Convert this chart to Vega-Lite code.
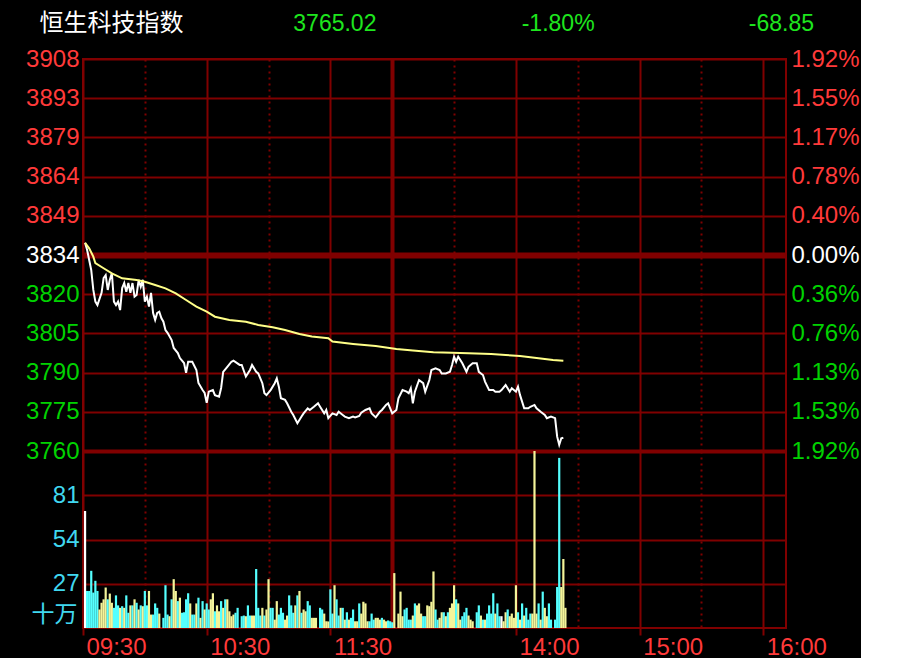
{
  "$schema": "https://vega.github.io/schema/vega-lite/v6.json",
  "background": "#000000",
  "padding": {"left": 24, "top": 0, "right": 0, "bottom": 0},
  "bounds": "flush",
  "align": "each",
  "spacing": 0,
  "config": {
    "view": {"stroke": "#800000", "strokeWidth": 2},
    "axis": {
      "labelFont": "Liberation Sans",
      "labelFontSize": 24,
      "domain": false,
      "gridColor": "#800000",
      "gridOpacity": 1,
      "gridWidth": 2,
      "tickColor": "#800000",
      "tickWidth": 2,
      "labelOverlap": false,
      "labelFlush": false,
      "labelBound": false
    }
  },
  "datasets": {
    "header": [
      {"key": "name", "kind": "name", "label": "恒生科技指数"},
      {"key": "last", "kind": "num", "label": "3765.02"},
      {"key": "pct", "kind": "num", "label": "-1.80%"},
      {"key": "chg", "kind": "num", "label": "-68.85"}
    ],
    "price": [
      {"t":1,"p":3838.6},{"t":2,"p":3835.9},{"t":4,"p":3828.3},{"t":5,"p":3820.8},{"t":6,"p":3816.4},{"t":7,"p":3815.1},{"t":9,"p":3819.7},{"t":10,"p":3825.3},{"t":11,"p":3826.4},{"t":12,"p":3820.8},{"t":13,"p":3824.6},{"t":14,"p":3827.2},{"t":15,"p":3816.4},{"t":16,"p":3815.1},{"t":17,"p":3816.4},{"t":18,"p":3813.2},{"t":19,"p":3821.5},{"t":20,"p":3823.4},{"t":21,"p":3820.1},{"t":22,"p":3823.4},{"t":23,"p":3819.7},{"t":24,"p":3823.4},{"t":25,"p":3818.3},{"t":26,"p":3818.9},{"t":27,"p":3824.6},{"t":28,"p":3822.0},{"t":29,"p":3824.6},{"t":30,"p":3816.4},{"t":31,"p":3818.3},{"t":32,"p":3814.5},{"t":33,"p":3819.7},{"t":34,"p":3812.1},{"t":35,"p":3809.5},{"t":36,"p":3812.1},{"t":37,"p":3812.6},{"t":38,"p":3810.2},{"t":39,"p":3808.8},{"t":40,"p":3805.7},{"t":41,"p":3804.6},{"t":43,"p":3801.9},{"t":44,"p":3798.9},{"t":46,"p":3797.0},{"t":47,"p":3795.1},{"t":49,"p":3793.2},{"t":50,"p":3789.5},{"t":51,"p":3793.7},{"t":53,"p":3793.7},{"t":55,"p":3790.6},{"t":56,"p":3785.7},{"t":58,"p":3783.0},{"t":59,"p":3781.9},{"t":60,"p":3778.2},{"t":61,"p":3782.4},{"t":63,"p":3783.0},{"t":64,"p":3781.1},{"t":66,"p":3780.5},{"t":67,"p":3783.8},{"t":68,"p":3789.9},{"t":70,"p":3791.8},{"t":72,"p":3793.7},{"t":73,"p":3794.1},{"t":76,"p":3792.5},{"t":77,"p":3792.5},{"t":79,"p":3788.1},{"t":81,"p":3790.6},{"t":82,"p":3792.5},{"t":84,"p":3789.9},{"t":85,"p":3789.3},{"t":87,"p":3785.6},{"t":88,"p":3781.8},{"t":89,"p":3781.1},{"t":91,"p":3783.0},{"t":93,"p":3785.6},{"t":94,"p":3787.4},{"t":95,"p":3784.3},{"t":96,"p":3779.9},{"t":98,"p":3779.3},{"t":99,"p":3778.0},{"t":101,"p":3774.8},{"t":102,"p":3773.6},{"t":104,"p":3770.5},{"t":106,"p":3773.0},{"t":107,"p":3774.2},{"t":109,"p":3776.1},{"t":110,"p":3775.5},{"t":112,"p":3776.7},{"t":114,"p":3778.0},{"t":115,"p":3776.7},{"t":117,"p":3774.2},{"t":118,"p":3775.5},{"t":119,"p":3772.4},{"t":121,"p":3774.2},{"t":123,"p":3773.6},{"t":124,"p":3774.8},{"t":126,"p":3773.6},{"t":127,"p":3773.0},{"t":129,"p":3772.4},{"t":131,"p":3773.0},{"t":132,"p":3772.7},{"t":134,"p":3773.2},{"t":135,"p":3774.5},{"t":137,"p":3775.5},{"t":139,"p":3776.1},{"t":140,"p":3774.2},{"t":142,"p":3772.7},{"t":144,"p":3774.8},{"t":145,"p":3775.5},{"t":147,"p":3777.4},{"t":148,"p":3778.0},{"t":150,"p":3774.2},{"t":152,"p":3775.5},{"t":153,"p":3779.9},{"t":155,"p":3783.0},{"t":157,"p":3782.4},{"t":158,"p":3781.8},{"t":159,"p":3783.7},{"t":160,"p":3778.0},{"t":161,"p":3782.4},{"t":163,"p":3786.8},{"t":165,"p":3785.6},{"t":166,"p":3782.4},{"t":168,"p":3786.8},{"t":169,"p":3790.6},{"t":171,"p":3791.2},{"t":173,"p":3790.6},{"t":174,"p":3789.3},{"t":176,"p":3789.3},{"t":178,"p":3789.9},{"t":179,"p":3792.5},{"t":180,"p":3795.6},{"t":181,"p":3793.7},{"t":182,"p":3795.6},{"t":184,"p":3793.1},{"t":186,"p":3789.9},{"t":187,"p":3791.8},{"t":189,"p":3793.1},{"t":191,"p":3793.1},{"t":192,"p":3789.9},{"t":194,"p":3788.7},{"t":195,"p":3786.2},{"t":197,"p":3783.0},{"t":199,"p":3783.0},{"t":200,"p":3782.4},{"t":202,"p":3782.4},{"t":203,"p":3783.0},{"t":205,"p":3784.9},{"t":207,"p":3782.4},{"t":208,"p":3783.7},{"t":210,"p":3782.4},{"t":211,"p":3784.3},{"t":212,"p":3781.1},{"t":214,"p":3776.1},{"t":216,"p":3776.1},{"t":217,"p":3776.7},{"t":219,"p":3777.4},{"t":220,"p":3776.1},{"t":222,"p":3774.8},{"t":224,"p":3773.6},{"t":225,"p":3772.4},{"t":227,"p":3773.0},{"t":229,"p":3772.4},{"t":230,"p":3765.4},{"t":231,"p":3762.3},{"t":232,"p":3764.8},{"t":233,"p":3765.02}
    ],
    "avg": [
      {"t":1,"a":3838.6},{"t":3,"a":3836.5},{"t":5,"a":3833.4},{"t":6,"a":3830.9},{"t":10,"a":3829.0},{"t":14,"a":3827.1},{"t":19,"a":3825.2},{"t":26,"a":3824.6},{"t":30,"a":3823.9},{"t":35,"a":3822.7},{"t":40,"a":3821.4},{"t":45,"a":3819.5},{"t":50,"a":3817.0},{"t":55,"a":3814.5},{"t":60,"a":3812.6},{"t":64,"a":3810.7},{"t":71,"a":3809.5},{"t":79,"a":3808.8},{"t":85,"a":3807.6},{"t":92,"a":3806.7},{"t":98,"a":3805.7},{"t":105,"a":3804.2},{"t":111,"a":3803.2},{"t":119,"a":3802.6},{"t":121,"a":3801.3},{"t":131,"a":3800.4},{"t":142,"a":3799.6},{"t":152,"a":3798.5},{"t":160,"a":3797.9},{"t":170,"a":3797.3},{"t":179,"a":3797.1},{"t":187,"a":3796.9},{"t":198,"a":3796.6},{"t":205,"a":3796.2},{"t":212,"a":3795.9},{"t":221,"a":3795.0},{"t":228,"a":3794.4},{"t":233,"a":3794.1}
    ],
    "vol": [
      {"t":1,"v":71.4,"dir":"flat"},{"t":2,"v":22.6,"dir":"up"},{"t":3,"v":22.6,"dir":"up"},{"t":4,"v":34.9,"dir":"up"},{"t":5,"v":21.6,"dir":"up"},{"t":6,"v":28.8,"dir":"up"},{"t":7,"v":22.6,"dir":"up"},{"t":8,"v":11.3,"dir":"down"},{"t":9,"v":15.4,"dir":"down"},{"t":10,"v":17.5,"dir":"down"},{"t":11,"v":24.7,"dir":"down"},{"t":12,"v":17.5,"dir":"up"},{"t":13,"v":21.0,"dir":"down"},{"t":14,"v":15.4,"dir":"down"},{"t":15,"v":12.3,"dir":"up"},{"t":16,"v":19.9,"dir":"up"},{"t":17,"v":13.8,"dir":"up"},{"t":18,"v":12.3,"dir":"down"},{"t":19,"v":13.3,"dir":"up"},{"t":20,"v":12.3,"dir":"down"},{"t":21,"v":19.9,"dir":"up"},{"t":22,"v":9.3,"dir":"up"},{"t":23,"v":13.8,"dir":"down"},{"t":24,"v":13.8,"dir":"up"},{"t":25,"v":17.5,"dir":"down"},{"t":26,"v":15.4,"dir":"up"},{"t":27,"v":11.3,"dir":"down"},{"t":28,"v":13.8,"dir":"up"},{"t":29,"v":13.3,"dir":"down"},{"t":30,"v":22.6,"dir":"up"},{"t":31,"v":13.8,"dir":"up"},{"t":32,"v":22.6,"dir":"down"},{"t":33,"v":8.2,"dir":"down"},{"t":34,"v":8.2,"dir":"up"},{"t":35,"v":15.0,"dir":"up"},{"t":36,"v":12.3,"dir":"up"},{"t":37,"v":8.8,"dir":"down"},{"t":39,"v":6.2,"dir":"up"},{"t":40,"v":26.1,"dir":"up"},{"t":41,"v":8.2,"dir":"up"},{"t":42,"v":7.2,"dir":"down"},{"t":43,"v":17.5,"dir":"up"},{"t":44,"v":29.8,"dir":"down"},{"t":45,"v":22.6,"dir":"down"},{"t":46,"v":16.4,"dir":"up"},{"t":47,"v":18.5,"dir":"down"},{"t":48,"v":9.3,"dir":"up"},{"t":49,"v":9.6,"dir":"up"},{"t":50,"v":17.5,"dir":"up"},{"t":51,"v":21.2,"dir":"up"},{"t":52,"v":15.0,"dir":"down"},{"t":53,"v":8.2,"dir":"up"},{"t":54,"v":8.2,"dir":"up"},{"t":55,"v":15.0,"dir":"down"},{"t":56,"v":18.5,"dir":"up"},{"t":57,"v":6.2,"dir":"down"},{"t":58,"v":16.4,"dir":"up"},{"t":59,"v":11.3,"dir":"down"},{"t":60,"v":15.0,"dir":"up"},{"t":61,"v":11.3,"dir":"up"},{"t":62,"v":17.5,"dir":"down"},{"t":63,"v":21.2,"dir":"down"},{"t":64,"v":10.2,"dir":"up"},{"t":65,"v":13.8,"dir":"down"},{"t":66,"v":10.2,"dir":"down"},{"t":67,"v":16.4,"dir":"up"},{"t":68,"v":12.3,"dir":"down"},{"t":69,"v":17.5,"dir":"up"},{"t":70,"v":17.5,"dir":"down"},{"t":71,"v":10.2,"dir":"down"},{"t":72,"v":7.2,"dir":"down"},{"t":73,"v":8.2,"dir":"down"},{"t":74,"v":9.3,"dir":"up"},{"t":75,"v":12.3,"dir":"up"},{"t":77,"v":7.2,"dir":"up"},{"t":78,"v":7.6,"dir":"up"},{"t":79,"v":7.2,"dir":"down"},{"t":80,"v":13.8,"dir":"up"},{"t":81,"v":7.6,"dir":"up"},{"t":82,"v":7.6,"dir":"down"},{"t":83,"v":7.6,"dir":"down"},{"t":84,"v":36.0,"dir":"up"},{"t":85,"v":12.3,"dir":"up"},{"t":86,"v":7.6,"dir":"up"},{"t":87,"v":12.3,"dir":"down"},{"t":88,"v":7.6,"dir":"up"},{"t":89,"v":11.3,"dir":"down"},{"t":90,"v":29.8,"dir":"down"},{"t":91,"v":12.3,"dir":"up"},{"t":92,"v":12.3,"dir":"up"},{"t":93,"v":5.1,"dir":"down"},{"t":94,"v":16.4,"dir":"down"},{"t":95,"v":8.2,"dir":"up"},{"t":96,"v":12.3,"dir":"up"},{"t":97,"v":9.3,"dir":"up"},{"t":98,"v":5.1,"dir":"down"},{"t":99,"v":7.6,"dir":"down"},{"t":100,"v":19.9,"dir":"up"},{"t":101,"v":13.8,"dir":"up"},{"t":102,"v":9.3,"dir":"up"},{"t":103,"v":13.8,"dir":"down"},{"t":104,"v":19.9,"dir":"up"},{"t":105,"v":22.6,"dir":"down"},{"t":106,"v":9.3,"dir":"up"},{"t":107,"v":11.3,"dir":"down"},{"t":108,"v":10.2,"dir":"down"},{"t":109,"v":16.4,"dir":"up"},{"t":110,"v":13.8,"dir":"up"},{"t":111,"v":6.2,"dir":"down"},{"t":112,"v":6.2,"dir":"down"},{"t":113,"v":6.2,"dir":"down"},{"t":115,"v":12.3,"dir":"up"},{"t":116,"v":11.3,"dir":"up"},{"t":117,"v":8.8,"dir":"down"},{"t":118,"v":4.1,"dir":"down"},{"t":119,"v":4.0,"dir":"down"},{"t":120,"v":23.6,"dir":"up"},{"t":121,"v":8.8,"dir":"up"},{"t":122,"v":26.1,"dir":"down"},{"t":123,"v":17.5,"dir":"up"},{"t":124,"v":7.6,"dir":"up"},{"t":125,"v":12.3,"dir":"down"},{"t":126,"v":12.3,"dir":"up"},{"t":127,"v":5.1,"dir":"down"},{"t":128,"v":9.6,"dir":"up"},{"t":129,"v":5.1,"dir":"down"},{"t":130,"v":6.2,"dir":"up"},{"t":131,"v":11.3,"dir":"up"},{"t":132,"v":4.1,"dir":"down"},{"t":133,"v":4.1,"dir":"down"},{"t":134,"v":15.0,"dir":"up"},{"t":135,"v":8.8,"dir":"down"},{"t":136,"v":16.0,"dir":"down"},{"t":137,"v":15.0,"dir":"down"},{"t":138,"v":4.1,"dir":"down"},{"t":139,"v":4.1,"dir":"up"},{"t":140,"v":8.8,"dir":"up"},{"t":141,"v":5.1,"dir":"up"},{"t":142,"v":6.2,"dir":"down"},{"t":143,"v":6.2,"dir":"down"},{"t":144,"v":5.1,"dir":"down"},{"t":145,"v":6.2,"dir":"up"},{"t":146,"v":5.1,"dir":"down"},{"t":147,"v":4.1,"dir":"down"},{"t":148,"v":4.6,"dir":"up"},{"t":149,"v":4.1,"dir":"up"},{"t":150,"v":3.5,"dir":"up"},{"t":151,"v":33.5,"dir":"down"},{"t":153,"v":8.8,"dir":"down"},{"t":154,"v":22.2,"dir":"down"},{"t":155,"v":7.2,"dir":"down"},{"t":156,"v":11.3,"dir":"up"},{"t":157,"v":12.3,"dir":"up"},{"t":158,"v":5.1,"dir":"up"},{"t":159,"v":5.1,"dir":"up"},{"t":160,"v":7.6,"dir":"down"},{"t":161,"v":15.0,"dir":"up"},{"t":162,"v":13.8,"dir":"down"},{"t":163,"v":15.0,"dir":"down"},{"t":164,"v":8.8,"dir":"down"},{"t":165,"v":7.2,"dir":"up"},{"t":166,"v":7.2,"dir":"up"},{"t":167,"v":13.8,"dir":"down"},{"t":168,"v":13.3,"dir":"down"},{"t":169,"v":16.0,"dir":"down"},{"t":170,"v":34.5,"dir":"down"},{"t":171,"v":11.3,"dir":"up"},{"t":172,"v":5.1,"dir":"up"},{"t":173,"v":6.2,"dir":"down"},{"t":174,"v":9.6,"dir":"down"},{"t":175,"v":9.6,"dir":"up"},{"t":176,"v":7.2,"dir":"down"},{"t":177,"v":9.6,"dir":"up"},{"t":178,"v":12.3,"dir":"down"},{"t":179,"v":15.0,"dir":"down"},{"t":180,"v":26.1,"dir":"down"},{"t":181,"v":17.5,"dir":"up"},{"t":182,"v":15.0,"dir":"down"},{"t":183,"v":5.1,"dir":"down"},{"t":184,"v":7.2,"dir":"up"},{"t":185,"v":9.6,"dir":"up"},{"t":186,"v":12.3,"dir":"up"},{"t":187,"v":7.6,"dir":"down"},{"t":188,"v":5.1,"dir":"down"},{"t":189,"v":4.1,"dir":"down"},{"t":191,"v":9.6,"dir":"up"},{"t":192,"v":13.8,"dir":"up"},{"t":193,"v":7.6,"dir":"down"},{"t":194,"v":5.1,"dir":"up"},{"t":195,"v":5.1,"dir":"down"},{"t":196,"v":8.8,"dir":"up"},{"t":197,"v":13.8,"dir":"up"},{"t":198,"v":8.8,"dir":"up"},{"t":199,"v":21.2,"dir":"up"},{"t":200,"v":8.8,"dir":"down"},{"t":201,"v":15.0,"dir":"up"},{"t":202,"v":7.2,"dir":"up"},{"t":203,"v":7.2,"dir":"flat"},{"t":204,"v":4.1,"dir":"down"},{"t":205,"v":9.6,"dir":"down"},{"t":206,"v":11.3,"dir":"up"},{"t":207,"v":7.2,"dir":"down"},{"t":208,"v":8.8,"dir":"down"},{"t":209,"v":6.2,"dir":"down"},{"t":210,"v":26.1,"dir":"down"},{"t":211,"v":9.6,"dir":"up"},{"t":212,"v":5.1,"dir":"down"},{"t":213,"v":15.0,"dir":"up"},{"t":214,"v":7.6,"dir":"down"},{"t":215,"v":12.3,"dir":"up"},{"t":216,"v":5.1,"dir":"up"},{"t":217,"v":8.8,"dir":"up"},{"t":218,"v":8.8,"dir":"down"},{"t":219,"v":108,"dir":"down"},{"t":220,"v":8.8,"dir":"down"},{"t":221,"v":15.0,"dir":"up"},{"t":222,"v":5.1,"dir":"down"},{"t":223,"v":22.2,"dir":"up"},{"t":224,"v":12.3,"dir":"down"},{"t":225,"v":7.2,"dir":"down"},{"t":226,"v":15.0,"dir":"up"},{"t":227,"v":5.1,"dir":"up"},{"t":229,"v":5.1,"dir":"up"},{"t":230,"v":25.0,"dir":"up"},{"t":231,"v":103.8,"dir":"up"},{"t":232,"v":25.0,"dir":"down"},{"t":233,"v":42.1,"dir":"down"},{"t":234,"v":12.3,"dir":"down"}
    ]
  },
  "vconcat": [
    {
      "width": 727,
      "height": 59,
      "view": {"stroke": null},
      "data": {"name": "header"},
      "layer": [
        {
          "transform": [{"filter": "datum.kind == 'name'"}],
          "mark": {"type": "text", "font": "Noto Sans CJK SC", "fontSize": 24, "dy": -6, "color": "#ffffff"},
          "encoding": {
            "x": {"field": "key", "type": "nominal", "scale": {"type": "point", "padding": 0.128, "domain": ["name", "last", "pct", "chg"]}, "axis": null},
            "text": {"field": "label"}
          }
        },
        {
          "transform": [{"filter": "datum.kind == 'num'"}],
          "mark": {"type": "text", "font": "Liberation Sans", "fontSize": 23, "dy": -6, "color": "#1ee61e"},
          "encoding": {
            "x": {"field": "key", "type": "nominal", "scale": {"type": "point", "padding": 0.128, "domain": ["name", "last", "pct", "chg"]}, "axis": null},
            "text": {"field": "label"}
          }
        }
      ]
    },
    {
      "width": 703,
      "height": 392,
      "layer": [
        {
          "data": {"name": "price"},
          "mark": {"type": "line", "color": "#ffffff", "strokeWidth": 2},
          "encoding": {
            "x": {
              "field": "t", "type": "quantitative",
              "scale": {"domain": [0, 341], "nice": false, "zero": false, "padding": 0},
              "axis": {
                "values": [0, 30, 60, 90, 120, 150, 180, 210, 240, 270, 300, 330],
                "labels": false, "ticks": false, "grid": true, "title": null,
                "gridWidth": {"condition": {"test": "datum.value == 150", "value": 4}, "value": 2},
                "gridDash": {"condition": {"test": "indexof([30,90,180,240,300], datum.value) >= 0", "value": [2, 4]}, "value": []}
              }
            },
            "y": {
              "field": "p", "type": "quantitative",
              "scale": {"domain": [3760, 3908], "nice": false, "zero": false},
              "axis": {
                "orient": "left",
                "values": [3760, 3774.8, 3789.6, 3804.4, 3819.2, 3834, 3848.8, 3863.6, 3878.4, 3893.2, 3908],
                "title": null, "ticks": false, "tickSize": 0, "labelPadding": 4, "grid": true,
                "labelExpr": "datum.value < 3767 ? '3760' : datum.value < 3782 ? '3775' : datum.value < 3797 ? '3790' : datum.value < 3812 ? '3805' : datum.value < 3826 ? '3820' : datum.value < 3841 ? '3834' : datum.value < 3856 ? '3849' : datum.value < 3871 ? '3864' : datum.value < 3886 ? '3879' : datum.value < 3900 ? '3893' : '3908'",
                "labelColor": {"condition": [{"test": "datum.value > 3835", "value": "#ff3a3a"}, {"test": "datum.value < 3833", "value": "#00d200"}], "value": "#ffffff"},
                "gridWidth": {"condition": [{"test": "abs(datum.value - 3834) < 1", "value": 6}, {"test": "abs(datum.value - 3760) < 1", "value": 4}], "value": 2}
              }
            }
          }
        },
        {
          "data": {"name": "avg"},
          "mark": {"type": "line", "color": "#ffff88", "strokeWidth": 2},
          "encoding": {
            "x": {
              "field": "t", "type": "quantitative",
              "scale": {"domain": [0, 341], "nice": false, "zero": false, "padding": 0}
            },
            "y": {
              "field": "a", "type": "quantitative",
              "scale": {"domain": [3760, 3908], "nice": false, "zero": false},
              "axis": {
                "orient": "right",
                "values": [3760, 3774.8, 3789.6, 3804.4, 3819.2, 3834, 3848.8, 3863.6, 3878.4, 3893.2, 3908],
                "title": null, "ticks": false, "tickSize": 0, "labelPadding": 5, "grid": false,
                "labelExpr": "datum.value < 3767 ? '1.92%' : datum.value < 3782 ? '1.53%' : datum.value < 3797 ? '1.13%' : datum.value < 3812 ? '0.76%' : datum.value < 3826 ? '0.36%' : datum.value < 3841 ? '0.00%' : datum.value < 3856 ? '0.40%' : datum.value < 3871 ? '0.78%' : datum.value < 3886 ? '1.17%' : datum.value < 3900 ? '1.55%' : '1.92%'",
                "labelColor": {"condition": [{"test": "datum.value > 3835", "value": "#ff3a3a"}, {"test": "datum.value < 3833", "value": "#00d200"}], "value": "#ffffff"}
              }
            }
          }
        }
      ],
      "resolve": {"scale": {"y": "independent"}}
    },
    {
      "width": 703,
      "height": 177,
      "data": {"name": "vol"},
      "mark": {"type": "bar", "size": 2.2, "orient": "vertical"},
      "encoding": {
        "x": {
          "field": "t", "type": "quantitative",
          "scale": {"domain": [0, 341], "nice": false, "zero": false, "padding": 0},
          "axis": {
            "values": [0, 30, 60, 90, 120, 150, 180, 210, 240, 270, 300, 330],
            "grid": true, "ticks": true, "tickSize": 7, "labelPadding": 0,
            "labelAlign": "left", "labelBaseline": "top", "labelOffset": 3,
            "labelColor": "#ff3a3a", "title": null,
            "labelExpr": "datum.value == 0 ? '09:30' : datum.value == 60 ? '10:30' : datum.value == 120 ? '11:30' : datum.value == 210 ? '14:00' : datum.value == 270 ? '15:00' : datum.value == 330 ? '16:00' : ''",
            "gridWidth": {"condition": {"test": "datum.value == 150", "value": 4}, "value": 2},
            "gridDash": {"condition": {"test": "indexof([30,90,180,240,300], datum.value) >= 0", "value": [2, 4]}, "value": []},
            "tickOpacity": {"condition": {"test": "indexof([0,60,120,210,270,330], datum.value) >= 0", "value": 1}, "value": 0}
          }
        },
        "y": {
          "field": "v", "type": "quantitative",
          "scale": {"domain": [0, 108], "nice": false},
          "axis": {
            "values": [27, 54, 81],
            "title": "十万", "titleX": -29, "titleY": 163, "titleAngle": 0,
            "titleAlign": "center", "titleBaseline": "middle",
            "titleFont": "Noto Sans CJK SC", "titleFontSize": 23, "titleFontWeight": "normal",
            "titleColor": "#40d8f0",
            "labelColor": "#40d8f0", "ticks": false, "tickSize": 0, "labelPadding": 4, "grid": true
          }
        },
        "color": {
          "field": "dir", "type": "nominal",
          "scale": {"domain": ["up", "down", "flat"], "range": ["#55ffff", "#f4f49a", "#ffffff"]},
          "legend": null
        }
      }
    }
  ]
}
